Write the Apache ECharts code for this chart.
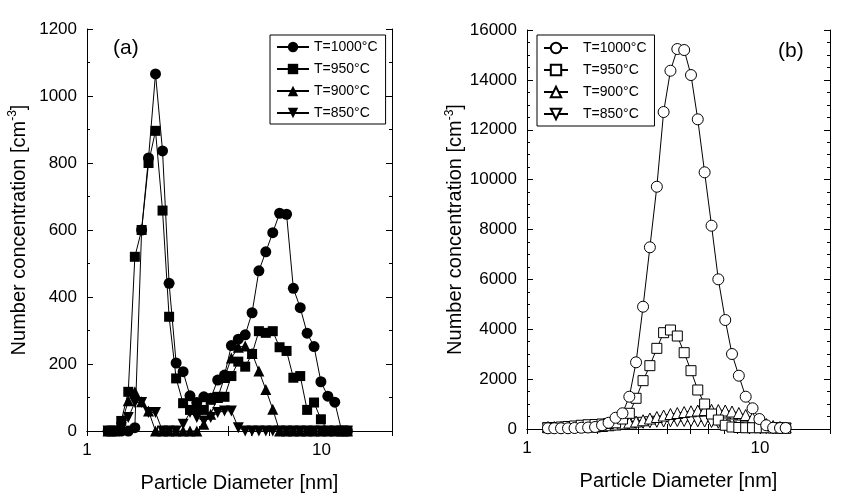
<!DOCTYPE html>
<html><head><meta charset="utf-8">
<script src="https://cdn.jsdelivr.net/npm/echarts@6/dist/echarts.min.js"></script>
<style>html,body{margin:0;padding:0;background:#fff}#c{width:861px;height:500px}</style>
</head><body><div id="c"></div>
<script>
// Particle diameters [nm] (SMPS channel midpoints)
const diameters = [1.23,1.31,1.40,1.50,1.60,1.71,1.83,1.96,2.10,2.24,2.40,2.57,2.75,2.94,3.15,3.37,3.61,3.86,4.13,4.42,4.73,5.06,5.41,5.79,6.20,6.63,7.10,7.59,8.12,8.69,9.30,9.95,10.65,11.4,12.2,12.9];
const seriesNames = ['T=1000°C','T=950°C','T=900°C','T=850°C'];
// Panel (a)
const a1000 = [0,0,0,0,10,600,815,1066,836,441,203,177,105,85,102,98,152,167,255,274,287,353,478,535,592,650,647,426,368,292,252,147,104,86,0,0];
const a950  = [0,0,30,117,520,600,800,896,658,341,157,83,63,63,63,93,102,102,164,207,192,230,298,293,298,250,239,159,164,63,85,35,0,0,0,0];
const a900  = [0,0,20,90,117,87,60,0,0,0,0,0,0,0,20,50,100,160,218,250,254,232,179,124,65,0,0,0,0,0,0,0,0,0,0,0];
const a850  = [0,0,10,40,85,85,55,55,0,0,0,20,55,40,30,40,55,60,60,10,0,0,0,0,0,0,0,0,0,0,0,0,0,0,0,0];
// Panel (b)
const b1000 = [30,30,30,30,40,50,60,80,150,250,450,630,1295,2674,4904,7286,9715,12711,14367,15237,15197,14194,12418,10293,8152,6002,4370,3007,2137,1295,830,400,150,50,40,40];
const b950  = [50,60,80,100,120,150,170,180,200,220,250,400,630,1231,1938,2540,3234,3862,3970,3729,3060,2338,1564,1002,600,360,150,80,60,50,50,50,50,40,30,30];
const b900  = [80,80,80,80,90,90,100,100,120,150,180,220,260,300,350,420,480,540,600,640,680,710,740,760,770,760,740,700,640,560,450,330,200,120,80,60];
const b850  = [30,30,40,40,50,60,80,100,120,150,170,190,210,230,250,270,290,300,310,320,320,320,310,300,280,250,220,180,140,100,70,50,30,20,20,20];
const xTickValues = [1,2,3,4,5,6,7,8,9,10,20];
const xLabelValues = [1,10];
const yTicksA = {min:0, max:1200, interval:200};
const yTicksB = {min:0, max:16000, interval:2000};

const FONT = 'Liberation Sans, Arial, sans-serif';
const downTri = 'path://M0,0 L10,0 L5,9 Z';
const symbols = ['circle','rect','triangle',downTri];
const chart = echarts.init(document.getElementById('c'), null, {renderer:'canvas'});

function xAxisDef(gi, top){
  return {type:'log', logBase:10, gridIndex:gi, min:1, max:20, position: top?'top':'bottom',
    axisLine:{show:true, lineStyle:{color:'#000', width:1}},
    axisTick:{show:true, inside:true, length:5, customValues:xTickValues, lineStyle:{color:'#000'}},
    axisLabel:{show:!top, customValues:xLabelValues, color:'#000', fontFamily:FONT, fontSize:17, margin:11,
      formatter:function(v){return String(Math.round(v));}},
    splitLine:{show:false}, minorTick:{show:false}, minorSplitLine:{show:false},
    name: top?'':'Particle Diameter [nm]', nameLocation:'middle', nameGap:42,
    nameTextStyle:{color:'#000', fontFamily:FONT, fontSize:20}};
}
function yAxisDef(gi, t, right, minorSplit){
  return {type:'value', gridIndex:gi, min:t.min, max:t.max, interval:t.interval, position: right?'right':'left',
    axisLine:{show:true, lineStyle:{color:'#000', width:1}},
    axisTick:{show:true, inside:true, length:6, lineStyle:{color:'#000'}},
    minorTick:{show:true, splitNumber:minorSplit, length:3, lineStyle:{color:'#000'}},
    axisLabel:{show:!right, color:'#000', fontFamily:FONT, fontSize:17, margin:10,
      formatter:function(v){return String(v);}},
    splitLine:{show:false},
    name: right?'':'{t|Number concentration [cm}{s|-3}{t|]}', nameLocation:'middle', nameGap: gi===0?56:57, nameRotate:90,
    nameTextStyle:{color:'#000', fontFamily:FONT, fontSize:20,
      rich:{t:{fontSize:20, fontFamily:FONT, color:'#000'}, s:{fontSize:12, fontFamily:FONT, color:'#000', padding:[0,0,12,0]}}}};
}
function mk(name, arr, idx, xi, yi, filled){
  return {type:'line', name:name, xAxisIndex:xi, yAxisIndex:yi,
    data: diameters.map((d,i)=>[d, arr[i]]),
    symbol: symbols[idx], symbolSize: idx===3?11:(idx===1?10:11),
    showAllSymbol:true, animation:false,
    lineStyle:{color:'#000', width:1},
    itemStyle: filled ? {color:'#000', borderColor:'#000', borderWidth:0} : {color:'#fff', borderColor:'#000', borderWidth:1},
    z: 10-idx};
}
const aArr = [a1000,a950,a900,a850];
const bArr = [b1000,b950,b900,b850];
const series = [];
aArr.forEach((arr,i)=>series.push(mk(seriesNames[i], arr, i, 0, 0, true)));
bArr.forEach((arr,i)=>series.push(mk(seriesNames[i]+' ', arr, i, 2, 2, false)));

const legendCommon = {orient:'vertical', borderColor:'#000', borderWidth:1, borderRadius:0,
  itemGap:8, itemHeight:13, backgroundColor:'#fff', selectedMode:false,
  textStyle:{color:'#000', fontFamily:FONT, fontSize:14}};

chart.setOption({
  animation:false,
  backgroundColor:'#fff',
  grid:[{left:87, top:29, width:305, height:402},{left:527, top:30, width:303, height:399}],
  xAxis:[xAxisDef(0,false), xAxisDef(0,true), xAxisDef(1,false), xAxisDef(1,true)],
  yAxis:[yAxisDef(0,yTicksA,false,2), yAxisDef(0,yTicksA,true,2), yAxisDef(1,yTicksB,false,4), yAxisDef(1,yTicksB,true,4)],
  legend:[
    Object.assign({}, legendCommon, {data:seriesNames, left:270, top:35, padding:[5,8,4,6], itemWidth:32}),
    Object.assign({}, legendCommon, {data:seriesNames.map(n=>n+' '), left:537, top:35, padding:[6,4,5,6], itemWidth:24, textStyle:{color:'#000', fontFamily:FONT, fontSize:14, padding:[0,0,0,10]}})
  ],
  graphic:[
    {type:'text', left:113, top:38, style:{text:'(a)', fill:'#000', font:'21px '+FONT}},
    {type:'text', left:778, top:41, style:{text:'(b)', fill:'#000', font:'21px '+FONT}}
  ],
  series: series
});
</script></body></html>
